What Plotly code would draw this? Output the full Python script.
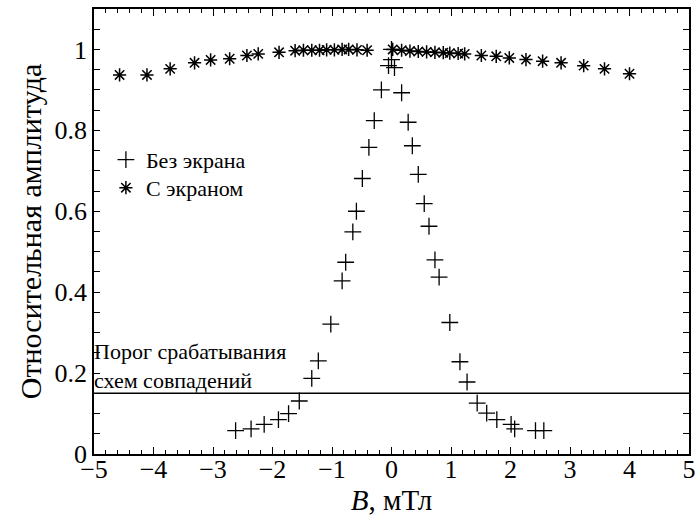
import plotly.graph_objects as go

# Без экрана (plus markers)
b_no = [-2.62, -2.36, -2.14, -1.90, -1.73, -1.55, -1.34, -1.23, -1.02, -0.83, -0.77,
        -0.65, -0.59, -0.49, -0.38, -0.29, -0.17, -0.05, 0.0, 0.0, 0.05, 0.17, 0.28,
        0.35, 0.45, 0.55, 0.63, 0.73, 0.80, 0.98, 1.15, 1.27, 1.44, 1.60, 1.77, 2.01,
        2.07, 2.42, 2.56]
a_no = [0.058, 0.062, 0.073, 0.085, 0.100, 0.131, 0.187, 0.230, 0.321, 0.428, 0.474,
        0.549, 0.600, 0.681, 0.758, 0.824, 0.900, 0.960, 0.975, 1.0, 0.955, 0.893, 0.820,
        0.762, 0.691, 0.619, 0.563, 0.480, 0.437, 0.325, 0.228, 0.178, 0.126, 0.101, 0.085, 0.073,
        0.062, 0.058, 0.058]

# С экраном (asterisk markers)
b_scr = [-4.57, -4.11, -3.72, -3.31, -3.04, -2.72, -2.43, -2.24, -1.89,
         -1.62, -1.48, -1.34, -1.21, -1.09, -0.96, -0.83, -0.72, -0.58, -0.41,
         0.02, 0.17, 0.31, 0.45, 0.59, 0.73, 0.87, 0.98, 1.12, 1.23, 1.51, 1.76,
         1.98, 2.26, 2.54, 2.85, 3.23, 3.58, 4.00]
a_scr = [0.937, 0.937, 0.952, 0.967, 0.974, 0.977, 0.985, 0.989, 0.993,
         0.997, 0.998, 0.998, 0.998, 0.999, 0.999, 1.0, 1.0, 0.999, 0.998,
         1.0, 0.998, 0.996, 0.995, 0.994, 0.993, 0.992, 0.991, 0.990, 0.989, 0.985, 0.983,
         0.979, 0.975, 0.971, 0.967, 0.960, 0.952, 0.940]

threshold = 0.15
x_range = [-5, 5]
y_range = [0, 1.1]

FONT = "Liberation Serif, Times New Roman, serif"

fig = go.Figure()
fig.add_trace(go.Scatter(x=x_range, y=[threshold, threshold], mode="lines",
                         line=dict(color="black", width=1.5), showlegend=False,
                         hoverinfo="skip"))
fig.add_trace(go.Scatter(x=b_no, y=a_no, mode="markers", name="Без экрана", legend="legend",
                         marker=dict(symbol="cross-thin-open", size=12, color="black",
                                     line=dict(color="black", width=1.3))))
fig.add_trace(go.Scatter(x=b_scr, y=a_scr, mode="markers", name="С экраном", legend="legend2",
                         marker=dict(symbol="asterisk-open", size=11, color="black",
                                     line=dict(color="black", width=1.5))))

fig.add_annotation(x=0, xref="paper", y=threshold, yref="y", xanchor="left", yanchor="bottom",
                   text="Порог срабатывания<br>схем совпадений", showarrow=False, align="left",
                   font=dict(family=FONT, size=22, color="black"), xshift=-2, yshift=-2)

axis_common = dict(showline=True, linecolor="black", linewidth=1.5, mirror="ticks",
                   ticks="inside", tickcolor="black", tickwidth=1, showgrid=False,
                   zeroline=False, automargin=False,
                   tickfont=dict(family=FONT, size=26, color="black"))

fig.update_xaxes(range=x_range, dtick=1, tick0=0, ticklen=7, ticklabelstandoff=-9,
                 minor=dict(dtick=0.2, ticks="inside", ticklen=4, tickcolor="black", showgrid=False),
                 title=dict(text="<i>B</i>, мТл", font=dict(family=FONT, size=29, color="black"),
                            standoff=2),
                 **axis_common)
fig.update_yaxes(range=y_range, dtick=0.2, tick0=0, ticklen=6,
                 minor=dict(dtick=0.05, ticks="inside", ticklen=6, tickcolor="black", showgrid=False),
                 title=dict(text="Относительная амплитуда", font=dict(family=FONT, size=30, color="black"),
                            standoff=4),
                 **axis_common)

leg_common = dict(x=0.02, xanchor="left", yanchor="middle",
                  bgcolor="rgba(0,0,0,0)", borderwidth=0,
                  font=dict(family=FONT, size=22, color="black"), itemwidth=30)

fig.update_layout(width=699, height=521, margin=dict(l=94, r=10, t=9, b=67),
                  plot_bgcolor="white", paper_bgcolor="white",
                  showlegend=True,
                  legend=dict(y=0.661, **leg_common),
                  legend2=dict(y=0.598, **leg_common))

fig.write_html("out.html", config={"displayModeBar": False},
               post_script="document.body.style.margin='0';")
